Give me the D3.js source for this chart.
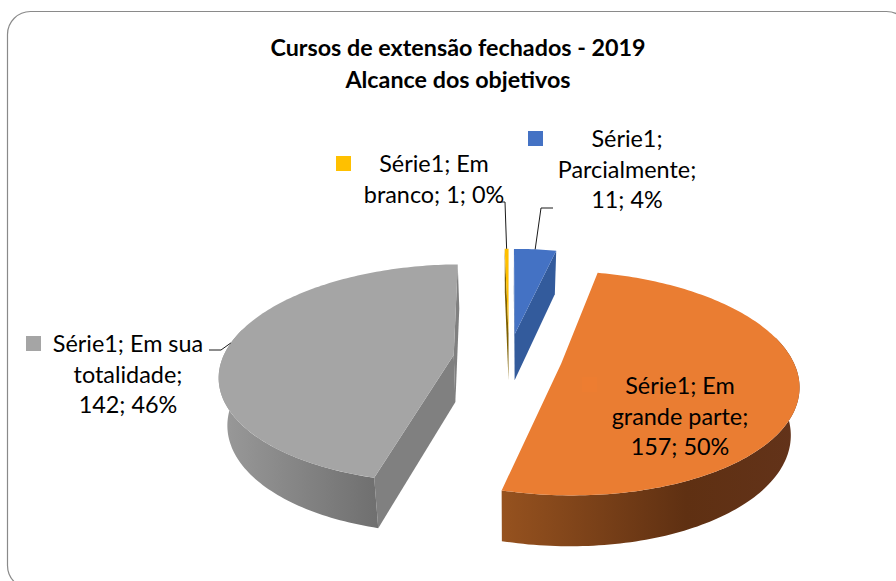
<!DOCTYPE html>
<html>
<head>
<meta charset="utf-8">
<script src="https://cdn.jsdelivr.net/npm/d3@7/dist/d3.min.js"></script>
<style>
html,body{margin:0;padding:0;background:#fff;overflow:hidden}
svg{display:block}
text{font-family:Lato,"Open Sans",sans-serif;fill:#000}
</style>
</head>
<body>
<svg id="chart" width="896" height="581"></svg>
<script>
// data
const categories = ["Parcialmente", "Em grande parte", "Em sua totalidade", "Em branco"];
const seriesValues = [11, 157, 142, 1];
const seriesName = "Série1";
const percentLabels = ["4%", "50%", "46%", "0%"];
const titleLines = ["Cursos de extensão fechados - 2019", "Alcance dos objetivos"];

// styles
const topColors = ["#4472c4", "#ea7d32", "#a5a5a5", "#ffc000"];
const faceColors = ["#335b9c", "#8a4a1f", "#808080", "#7f6000"];
const wallStops = [
  null,
  [["0%", "#96521f"], ["62%", "#5f3012"], ["100%", "#63331a"]],
  [["0%", "#9a9a9a"], ["100%", "#6f6f6f"]],
  null
];
const explodeBySlice = [0.235, 0.23, 0.242, 0.235];
const labelLayout = [
  {lines: [seriesName + ";", categories[0] + ";", "11; " + percentLabels[0]], x: 627, y: 147, key: [528, 131], leader: [[553, 208], [541, 208]]},
  {lines: [seriesName + "; Em", "grande parte;", "157; 50%"], x: 680, y: 394, key: [582, 377], leader: null},
  {lines: [seriesName + "; Em sua", "totalidade;", "142; 46%"], x: 128, y: 352, key: [26, 336], leader: [[209, 350], [221, 350]]},
  {lines: [seriesName + "; Em", "branco; 1; 0%"], x: 434, y: 172, key: [336, 156], leader: [[497, 202], [505, 202]]}
];

const svg = d3.select("#chart");
const defs = svg.append("defs");

// frame
svg.append("rect").attr("x", 7.5).attr("y", 11.5).attr("width", 902).attr("height", 577)
  .attr("rx", 23).attr("fill", "#fff").attr("stroke", "#8a8a8a").attr("stroke-width", 1.2);

// title
svg.append("text").attr("text-anchor", "middle").attr("font-weight", 700).attr("font-size", 23.3)
  .selectAll("tspan").data(titleLines).join("tspan")
  .attr("x", 458).attr("y", (d, i) => 56 + i * 32).text(d => d);

// 3D pie projection
const cx = 509, cy = 358, F = 231, G = 107, P = 0.17, WALL = 47, SHRINK = 0.97;
const arcs = d3.pie().sort(null).value(d => d)(seriesValues);

function project(a, r, mid, bottom, explode) {
  const X = r * Math.sin(a) + explode * Math.sin(mid);
  const Y = -r * Math.cos(a) - explode * Math.cos(mid);
  const w = 1 - Y * P;
  const sx = F * X / w, sy = G * Y / w;
  return bottom ? [cx + sx * SHRINK, cy + sy + WALL / Math.pow(w, 0.4)] : [cx + sx, cy + sy];
}
const line = d3.line();
function rim(a0, a1, mid, bottom, e) {
  const n = Math.max(2, Math.ceil((a1 - a0) / 0.02));
  return d3.range(n + 1).map(i => project(a0 + (a1 - a0) * i / n, 1, mid, bottom, e));
}

const order = [3, 0, 2, 1];
order.forEach(i => {
  const d = arcs[i], a0 = d.startAngle, a1 = d.endAngle, mid = (a0 + a1) / 2, e = explodeBySlice[i];
  const g = svg.append("g");
  const apexT = project(0, 0, mid, false, e), apexB = project(0, 0, mid, true, e);

  // radial cut faces: d3.polygonArea is negative for on-screen clockwise rings
  [[a0, -1], [a1, 1]].forEach(([a, sign]) => {
    const q = [project(a, 1, mid, false, e), apexT, apexB, project(a, 1, mid, true, e)];
    if (d3.polygonArea(q) * sign > 0) {
      g.append("path").attr("d", line(q) + "Z").attr("fill", faceColors[i]);
    }
  });

  // outer curved wall (front half only)
  const w0 = Math.max(a0, Math.PI * 0.42), w1 = Math.min(a1, Math.PI * 1.58);
  if (wallStops[i] && w1 > w0) {
    const id = "wall" + i;
    const lg = defs.append("linearGradient").attr("id", id).attr("x1", 0).attr("x2", 1);
    lg.selectAll("stop").data(wallStops[i]).join("stop").attr("offset", s => s[0]).attr("stop-color", s => s[1]);
    const pts = rim(w0, w1, mid, false, e).concat(rim(w0, w1, mid, true, e).reverse());
    g.append("path").attr("d", line(pts) + "Z").attr("fill", "url(#" + id + ")");
  }

  // top surface
  const top = [apexT].concat(rim(a0, a1, mid, false, e));
  g.append("path").attr("d", line(top) + "Z").attr("fill", topColors[i]);
});

// leader lines
labelLayout.forEach((l, i) => {
  if (!l.leader) return;
  const mid = (arcs[i].startAngle + arcs[i].endAngle) / 2;
  const end = project(mid, 1, mid, false, explodeBySlice[i]);
  svg.append("path").attr("d", line(l.leader.concat([end]))).attr("fill", "none")
    .attr("stroke", "#1a1a1a").attr("stroke-width", 1);
});

// labels and legend keys
labelLayout.forEach((l, i) => {
  svg.append("rect").attr("x", l.key[0]).attr("y", l.key[1]).attr("width", 15).attr("height", 15)
    .attr("fill", i === 1 ? "#ed7d31" : topColors[i]);
  svg.append("text").attr("text-anchor", "middle").attr("font-size", 23.4)
    .selectAll("tspan").data(l.lines).join("tspan")
    .attr("x", l.x).attr("y", (d, j) => l.y + j * 30.5).text(d => d);
});
</script>
</body>
</html>
